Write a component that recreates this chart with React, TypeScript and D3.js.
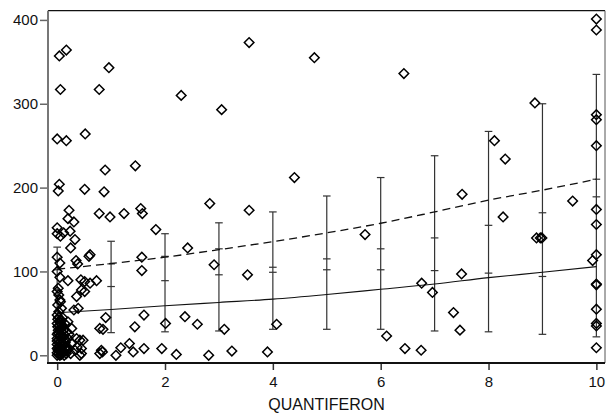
import React, { useEffect, useRef } from 'react';
import * as d3 from 'd3';

// scatter points: quantiferon value, y value
const pointX = [
  0.04, 0.17, 0.96, 0.06, 0.78, 2.30, 3.05, 0.0, 0.17, 0.52, 0.89, 1.45, 3.56, 4.77, 6.43, 4.40,
  10, 10, 8.86, 10, 10, 8.11, 8.31, 10, 7.51, 0.04, 0.02, 0.51, 0.87, 2.83, 9.56, 9.93,
  0.22, 0.78, 0.98, 1.24, 0.20, 0.31, 0.0, 0.06, 0.12, 0.24, 0.33, 0.25, 1.55, 1.58, 1.83, 3.56,
  2.42, 1.57, 1.57, 2.91, 3.53, 5.71, 8.27, 8.89, 8.96, 8.99, 10, 10, 10, 0.0, 0.05, 0.35, 0.38,
  0.59, 0.61, 0.20, 0.44, 0.51, 0.61, 0.73, 0.02, 0.05, 0.08, 0.36, 0.45, 0.51, 0.31, 0.39, 0.90,
  0.79, 0.85, 1.44, 1.61, 2.01, 2.37, 2.60, 3.10, 4.07, 6.76, 6.96, 7.50, 7.35, 7.47, 6.11, 6.45,
  6.75, 10, 10, 10, 10, 10, 10, 0.82, 1.09, 1.18, 1.34, 1.41, 1.61, 1.94, 2.21, 2.81, 3.24, 3.90,
  0.79, 0.84, 0.27, 0.36, 0.42, 0.27, 0.37, 0.45, 0.25, 0.42, 0.48, 0.33, 0.45,
  0.0, 0.03, 0.06, 0.0, 0.04, 0.10, 0.02, 0.08, 0.0, 0.05, 0.12, 0.0, 0.03, 0.07, 0.15, 0.0,
  0.04, 0.09, 0.0, 0.02, 0.06, 0.11, 0.0, 0.03, 0.08, 0.0, 0.05, 0.13, 0.18, 0.16, 0.20, 0.18,
  0.14, 0.10, 0.01, 0.03, 0.0, 0.06, 0.20, 0.22, 0.17, 0.22, 0.0,
  0.01, 0.05, 0.09, 0.12, 0.02, 0.07, 0.14, 0.0, 0.04, 0.10, 0.16, 0.02, 0.06, 0.11, 0.01, 0.08,
  0.13, 0.03, 0.0, 0.05,
];
const pointY = [
  357, 364, 343, 317, 317, 310, 293, 258, 256, 264, 221, 226, 373, 355, 336, 212,
  401, 388, 301, 287, 281, 256, 234, 250, 192, 204, 196, 198, 195, 181, 184, 113,
  173, 169, 165, 169, 163, 159, 152, 142, 146, 148, 138, 128, 175, 169, 150, 173,
  128, 117, 101, 108, 96, 144, 165, 140, 140, 140, 174, 156, 120, 117, 110, 113, 109,
  118, 120, 89, 90, 88, 86, 89, 80, 66, 56, 70, 78, 76, 54, 56, 45,
  32, 31, 34, 48, 38, 46, 37, 31, 37, 86, 75, 97, 51, 30, 23, 8,
  6, 85, 84, 55, 38, 35, 9, 6, 0, 9, 14, 4, 8, 8, 1, 0, 5, 4,
  2, 4, 32, 20, 18, 14, 10, 8, 2, 0, 18, 6, 2,
  48, 45, 42, 38, 35, 33, 30, 28, 25, 23, 22, 20, 18, 16, 15, 13,
  11, 10, 8, 6, 5, 4, 3, 2, 1, 0, 0, 0, 5, 10, 20, 28,
  38, 45, 60, 72, 76, 64, 40, 25, 2, 8, 145,
  43, 39, 36, 30, 27, 24, 19, 17, 14, 12, 8, 9, 7, 3, 34, 41,
  25, 52, 100, 93,
];

// fitted curves read at whole quantiferon values
const curveX = [0, 1, 2, 3, 4, 5, 6, 7, 8, 9, 10];
const solidY = [50.8, 54.7, 59, 63, 67, 72.5, 78.7, 85, 92.6, 99, 105.7];
const dashedY = [102.6, 109.5, 117, 126, 135.6, 146, 157.5, 171, 185, 197, 210];

// error bars per quantiferon value
const barX = [0, 1, 2, 3, 4, 5, 6, 7, 8, 9, 10];
const barLow = [25, 27, 28, 29, 31, 31, 31, 29, 28, 25, 22];
const barHigh = [129, 136, 145, 158, 171, 190, 212, 238, 267, 300, 335];
const barMidA = [102, 109, 118, 127, 105, 115, 127, 140, 155, 170, 189];
const barMidB = [78, 82, 89, 96, 99, 102, 102, 101, 98, 94, 210];

const xTicks = [0, 2, 4, 6, 8, 10];
const yTicks = [0, 100, 200, 300, 400];

const App = () => {
  const ref = useRef<SVGSVGElement | null>(null);

  useEffect(() => {
    const svg = d3.select(ref.current);
    svg.selectAll('*').remove();

    const left = 48, right = 605, top = 10.7, bottom = 363;
    const font = 'Liberation Sans, Arial, Helvetica, sans-serif';

    const x = d3.scaleLinear().domain([-0.17, 10.16]).range([left, right]);
    const y = d3.scaleLinear().domain([-9.2, 411]).range([bottom, top]);

    // frame
    svg.append('line')
      .attr('x1', left).attr('x2', right).attr('y1', top).attr('y2', top)
      .attr('stroke', '#111').attr('stroke-width', 1.2);
    svg.append('line')
      .attr('x1', right).attr('x2', right).attr('y1', top).attr('y2', bottom)
      .attr('stroke', '#555').attr('stroke-width', 1);

    // error bars
    const cap = 3.8;
    const bars = svg.append('g').attr('stroke', '#333').attr('stroke-width', 1.2);
    barX.forEach((v, i) => {
      const cx = x(v);
      bars.append('line').attr('x1', cx).attr('x2', cx)
        .attr('y1', y(barLow[i])).attr('y2', y(barHigh[i]));
      [barLow[i], barHigh[i], barMidA[i], barMidB[i]].forEach(t => {
        bars.append('line').attr('x1', cx - cap).attr('x2', cx + cap)
          .attr('y1', y(t)).attr('y2', y(t));
      });
    });

    // curves
    const line = d3.line<number>()
      .x((_, i) => x(curveX[i]))
      .y(d => y(d))
      .curve(d3.curveMonotoneX);

    svg.append('path')
      .attr('d', line(solidY))
      .attr('fill', 'none').attr('stroke', '#111').attr('stroke-width', 1.1);
    svg.append('path')
      .attr('d', line(dashedY))
      .attr('fill', 'none').attr('stroke', '#111').attr('stroke-width', 1.3)
      .attr('stroke-dasharray', '8,5');

    // points
    const diamond = d3.symbol().type(d3.symbolSquare).size(46)();
    svg.append('g')
      .selectAll('path')
      .data(pointX.map((v, i) => [v, pointY[i]]))
      .join('path')
      .attr('d', diamond)
      .attr('transform', d => `translate(${x(d[0])},${y(d[1])}) rotate(45)`)
      .attr('fill', 'none')
      .attr('stroke', '#000')
      .attr('stroke-width', 1.5);

    // axes
    const yAxis = svg.append('g')
      .attr('transform', `translate(${left},0)`)
      .call(d3.axisLeft(y).tickValues(yTicks).tickSize(8).tickPadding(2).tickSizeOuter(0));
    yAxis.select('.domain').remove();
    yAxis.selectAll('line').attr('stroke', '#666').attr('stroke-width', 1.5);
    yAxis.selectAll('text').attr('font-family', font).attr('font-size', 15).attr('fill', '#111');
    svg.append('line')
      .attr('x1', left).attr('x2', left).attr('y1', top).attr('y2', bottom + 1)
      .attr('stroke', '#777').attr('stroke-width', 2);

    const xAxis = svg.append('g')
      .attr('transform', `translate(0,${bottom})`)
      .call(d3.axisBottom(x).tickValues(xTicks).tickSize(7).tickPadding(6).tickSizeOuter(0));
    xAxis.select('.domain').remove();
    xAxis.selectAll('line').attr('stroke', '#333').attr('stroke-width', 1.5);
    xAxis.selectAll('text').attr('font-family', font).attr('font-size', 15).attr('fill', '#111');
    svg.append('line')
      .attr('x1', left - 1).attr('x2', right).attr('y1', bottom).attr('y2', bottom)
      .attr('stroke', '#111').attr('stroke-width', 2.2);

    svg.append('text')
      .attr('x', (left + right) / 2)
      .attr('y', 410)
      .attr('text-anchor', 'middle')
      .attr('font-family', font)
      .attr('font-size', 16)
      .attr('fill', '#111')
      .text('QUANTIFERON');
  }, []);

  return (
    <svg
      ref={ref}
      width={611}
      height={414}
      style={{ position: 'absolute', left: 0, top: 0, background: '#fff' }}
    ></svg>
  );
};

export default App;
